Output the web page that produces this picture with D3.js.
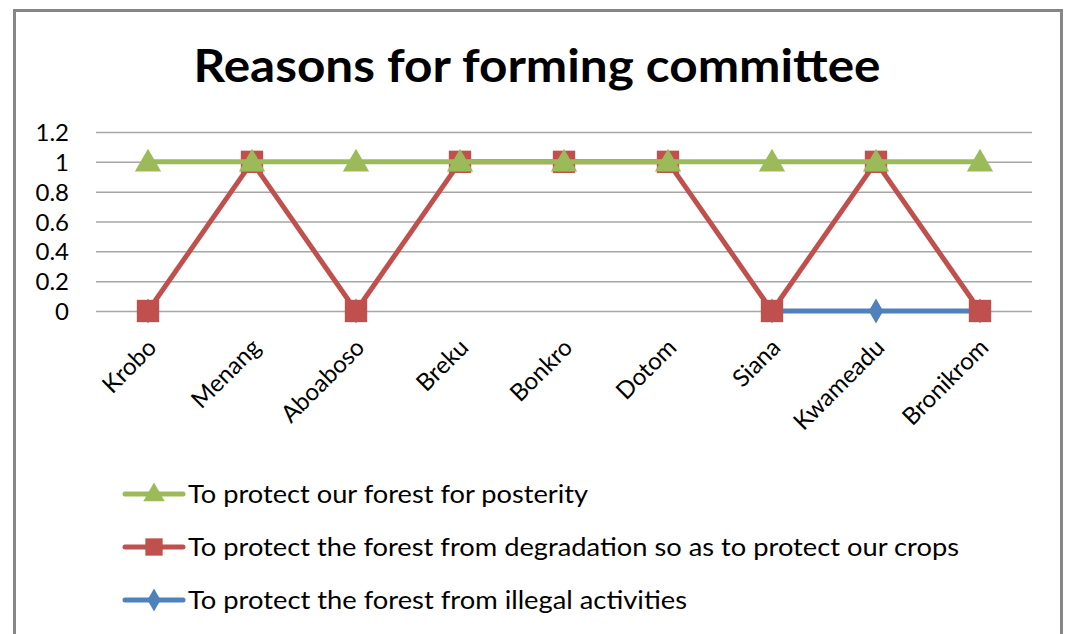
<!DOCTYPE html>
<html>
<head>
<meta charset="utf-8">
<script src="https://cdn.jsdelivr.net/npm/d3@7"></script>
<style>
  html, body { margin: 0; padding: 0; background: #fff; }
  svg { display: block; }
  text { font-family: Lato, "Open Sans", sans-serif; fill: #000; }
</style>
</head>
<body>
<svg id="chart" width="1067" height="634"></svg>
<script>
// Villages surveyed
const categories = ["Krobo", "Menang", "Aboaboso", "Breku", "Bonkro", "Dotom", "Siana", "Kwameadu", "Bronikrom"];

// Reasons given (1 = reason cited, 0 = not cited, null = no response)
const posterity   = [1, 1, 1, 1, 1, 1, 1, 1, 1];
const degradation = [0, 1, 0, 1, 1, 1, 0, 1, 0];
const illegal     = [0, null, 0, null, null, null, 0, 0, 0];

const yTicks = [0, 0.2, 0.4, 0.6, 0.8, 1, 1.2];
const yTickLabels = ["0", "0.2", "0.4", "0.6", "0.8", "1", "1.2"];

const seriesNames = [
  "To protect our forest for posterity",
  "To protect the forest from degradation so as to protect our crops",
  "To protect the forest from illegal activities"
];

const series = [
  { name: seriesNames[2], values: illegal,     color: "#4F81BD", marker: "diamond" },
  { name: seriesNames[1], values: degradation, color: "#C0504D", marker: "square" },
  { name: seriesNames[0], values: posterity,   color: "#9BBB59", marker: "triangle" }
];

const svg = d3.select("#chart");

// outer frame
svg.append("rect")
  .attr("x", 14.5).attr("y", 10.5)
  .attr("width", 1047).attr("height", 700)
  .attr("fill", "#fff").attr("stroke", "#868686").attr("stroke-width", 3);

// title
svg.append("text")
  .attr("x", 537).attr("y", 82)
  .attr("text-anchor", "middle")
  .attr("font-size", 46).attr("font-weight", "bold")
  .attr("textLength", 687).attr("lengthAdjust", "spacingAndGlyphs")
  .text("Reasons for forming committee");

const plot = { left: 96, right: 1032, top: 132, bottom: 311 };

const x = d3.scaleBand().domain(categories).range([plot.left, plot.right]);
const y = d3.scaleLinear().domain([0, 1.2]).range([plot.bottom, plot.top]);

// gridlines
svg.append("g")
  .attr("transform", `translate(${plot.left},0)`)
  .call(d3.axisLeft(y).tickValues(yTicks).tickSize(-(plot.right - plot.left)).tickFormat(""))
  .call(g => g.select(".domain").remove())
  .call(g => g.selectAll(".tick line").attr("stroke", "#A6A6A6").attr("stroke-width", 1.5));

// y tick labels
svg.append("g")
  .attr("transform", "translate(69,0)")
  .call(d3.axisLeft(y).tickValues(yTicks).tickSize(0).tickPadding(0)
    .tickFormat((d, i) => yTickLabels[i]))
  .call(g => g.select(".domain").remove())
  .call(g => g.selectAll("text")
    .attr("font-family", "Lato, sans-serif").attr("font-size", 24).attr("fill", "#000")
    .attr("dy", "0.36em"));

// x category labels, rotated
const xg = svg.append("g")
  .attr("transform", `translate(0,${plot.bottom})`)
  .call(d3.axisBottom(x).tickSize(0).tickPadding(0));
xg.select(".domain").remove();
xg.selectAll(".tick text")
  .attr("font-family", "Lato, sans-serif").attr("font-size", 24).attr("fill", "#000")
  .attr("text-anchor", "end")
  .attr("y", 0).attr("dy", 0)
  .attr("transform", "translate(10,38) rotate(-45)");

const cx = d => x(d) + x.bandwidth() / 2;

const markerPath = {
  triangle: d3.symbol().type(d3.symbolTriangle).size(300),
  square:   d3.symbol().type(d3.symbolSquare).size(500),
  diamond:  d3.symbol().type(d3.symbolDiamond).size(180)
};

const line = d3.line()
  .defined(d => d.v !== null)
  .x(d => cx(d.c))
  .y(d => y(d.v));

series.forEach(s => {
  const pts = categories.map((c, i) => ({ c, v: s.values[i] }));
  const g = svg.append("g");
  g.append("path")
    .datum(pts)
    .attr("fill", "none")
    .attr("stroke", s.color)
    .attr("stroke-width", 5)
    .attr("stroke-linejoin", "round")
    .attr("d", line);
  g.selectAll("path.mk")
    .data(pts.filter(d => d.v !== null))
    .join("path")
    .attr("class", "mk")
    .attr("transform", d => `translate(${cx(d.c)},${y(d.v) + (s.marker === "triangle" ? 2 : 0)})`)
    .attr("d", markerPath[s.marker]())
    .attr("fill", s.color);
});

// legend
const legendRows = [
  { name: seriesNames[0], color: "#9BBB59", marker: "triangle", len: 400 },
  { name: seriesNames[1], color: "#C0504D", marker: "square", len: 771 },
  { name: seriesNames[2], color: "#4F81BD", marker: "diamond", len: 499 }
];
const legendY = d3.scalePoint().domain(legendRows.map(d => d.name)).range([494, 600]);

legendRows.forEach(r => {
  const yy = legendY(r.name);
  const g = svg.append("g").attr("transform", `translate(0,${yy})`);
  g.append("line")
    .attr("x1", 125).attr("x2", 183)
    .attr("stroke", r.color).attr("stroke-width", 5).attr("stroke-linecap", "round");
  const sizes = { triangle: 200, square: 300, diamond: 150 };
  g.append("path")
    .attr("transform", `translate(154,${r.marker === "triangle" ? 1 : 0})`)
    .attr("d", d3.symbol().type(r.marker === "triangle" ? d3.symbolTriangle :
      r.marker === "square" ? d3.symbolSquare : d3.symbolDiamond).size(sizes[r.marker])())
    .attr("fill", r.color);
  g.append("text")
    .attr("x", 188).attr("dy", "0.35em")
    .attr("font-size", 25)
    .attr("textLength", r.len).attr("lengthAdjust", "spacingAndGlyphs")
    .text(r.name);
});
</script>
</body>
</html>
